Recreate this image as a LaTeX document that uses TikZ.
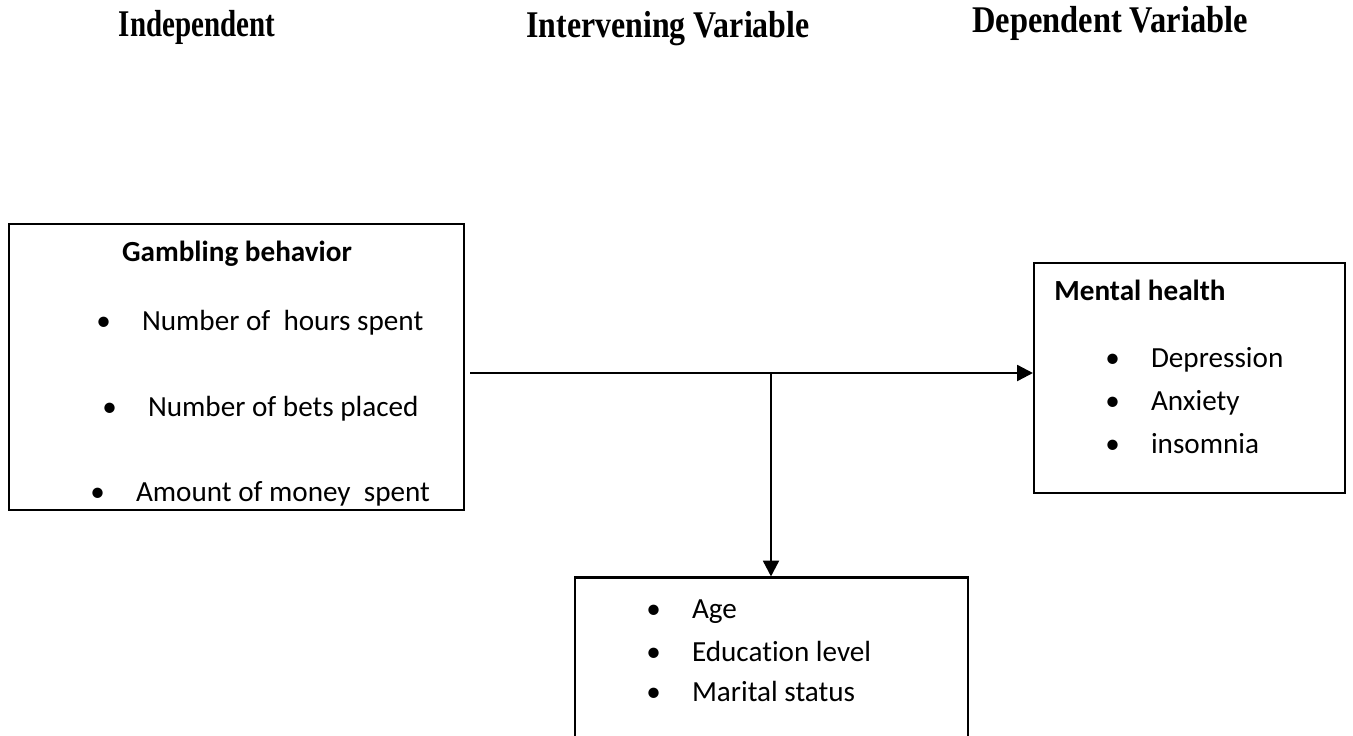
\documentclass[tikz,border=0pt]{standalone}
\usepackage{fontspec}
\setmainfont{Carlito}[Ligatures=NoCommon]
\newfontfamily\headfont{Liberation Serif}
\usetikzlibrary{positioning,arrows.meta}

\begin{document}
\begin{tikzpicture}[x=0.02cm,y=-0.02cm,
  box/.style={draw,line width=1.2pt,inner sep=0pt},
  item/.style={anchor=west,inner sep=0pt,font=\fontsize{16.6}{19}\selectfont},
  boxtitle/.style={inner sep=0pt,font=\fontsize{16.6}{19}\selectfont\bfseries},
  head/.style={inner sep=0pt,yscale=1.3,font=\headfont\fontsize{16.5}{19}\selectfont\bfseries},
  link/.style={line width=1.4pt,-{Triangle[length=9pt,width=9pt]}}]
\newcommand{\bul}{\makebox[26pt][l]{\textbullet}}
\useasboundingbox (0,0) rectangle (1353,735);

% column headings
\node[head] (hind) at (197,27) {Independent};
\node[head,xscale=1.1] (hint) at (668,29) {Intervening Variable};
\node[head,xscale=1.12] (hdep) at (1110,23) {Dependent Variable};

% boxes
\node[box,minimum width=9.1cm,minimum height=5.72cm] (gamble) at (236.5,367) {};
\node[box,minimum width=6.22cm,minimum height=4.6cm] (mental) at (1189.5,378) {};
\node[box,minimum width=7.86cm,minimum height=3.5cm] (inter) at (771.5,665) {};

% box contents
\node[boxtitle] (gtitle) at (237,254) {Gambling behavior};
\node[item] (g1) at (96,323) {\bul Number of\ \ hours spent};
\node[item] (g2) at (102,409) {\bul Number of bets placed};
\node[item] (g3) at (90,494) {\bul Amount of money\ \ spent};

\node[boxtitle,anchor=west] (mtitle) at (1054,290) {Mental health};
\node[item] (m1) at (1105,360) {\bul Depression};
\node[item] (m2) at (1105,403) {\bul Anxiety};
\node[item] (m3) at (1105,444) {\bul insomnia};

\node[item] (i1) at (646,612) {\bul Age};
\node[item] (i2) at (646,651) {\bul Education level};
\node[item] (i3) at (646,691) {\bul Marital status};

% connectors
\coordinate (lstart) at (470,373);
\coordinate (junc) at (771,373);
\draw[link] (lstart) -- (lstart -| mental.west);
\draw[link] (junc) -- (junc |- inter.north);
\end{tikzpicture}
\end{document}
